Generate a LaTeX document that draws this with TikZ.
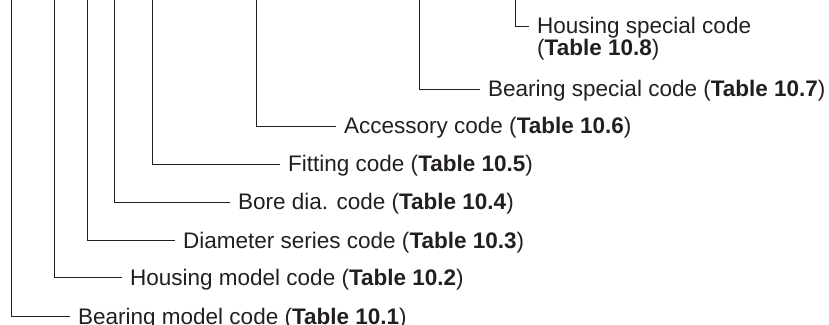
\documentclass[tikz,border=0pt]{standalone}
\usepackage{fontspec}
\setmainfont{Liberation Sans}
\definecolor{ink}{RGB}{35,31,32}
\begin{document}
\begin{tikzpicture}[x=1pt,y=1pt,
  lbl/.style={anchor=west, inner xsep=8pt, inner ysep=0pt, text height=16pt, text depth=0pt,
    font=\fontsize{22.5}{24}\selectfont, text=ink},
  conn/.style={draw=ink, line width=0.9pt}]
\useasboundingbox (0,0) rectangle (829,324);
% top ends of the vertical leaders
\coordinate (v1) at (11,324);
\coordinate (v2) at (54,324);
\coordinate (v3) at (87,324);
\coordinate (v4) at (114,324);
\coordinate (v5) at (152,324);
\coordinate (v6) at (256,324);
\coordinate (v7) at (419,324);
\coordinate (v8) at (515,324);
% labels
\node[lbl] (t1) at (70,8) {Bearing model code (\textbf{Table 10.1})};
\node[lbl] (t2) at (122,47) {Housing model code (\textbf{Table 10.2})};
\node[lbl] (t3) at (175,84) {Diameter series code (\textbf{Table 10.3})};
\node[lbl] (t4) at (230,122) {Bore dia. code (\textbf{Table 10.4})};
\node[lbl] (t5) at (280,160) {Fitting code (\textbf{Table 10.5})};
\node[lbl] (t6) at (336,198) {Accessory code (\textbf{Table 10.6})};
\node[lbl] (t7) at (480,235) {Bearing special code (\textbf{Table 10.7})};
\node[lbl] (t8) at (529,298) {Housing special code};
\node[lbl, anchor=base west] (t8b) at ([yshift=-22pt]t8.base west) {(\textbf{Table 10.8})};
% connectors
\draw[conn] (v1) |- (t1.west);
\draw[conn] (v2) |- (t2.west);
\draw[conn] (v3) |- (t3.west);
\draw[conn] (v4) |- (t4.west);
\draw[conn] (v5) |- (t5.west);
\draw[conn] (v6) |- (t6.west);
\draw[conn] (v7) |- (t7.west);
\draw[conn] (v8) |- (t8.west);
\end{tikzpicture}
\end{document}
